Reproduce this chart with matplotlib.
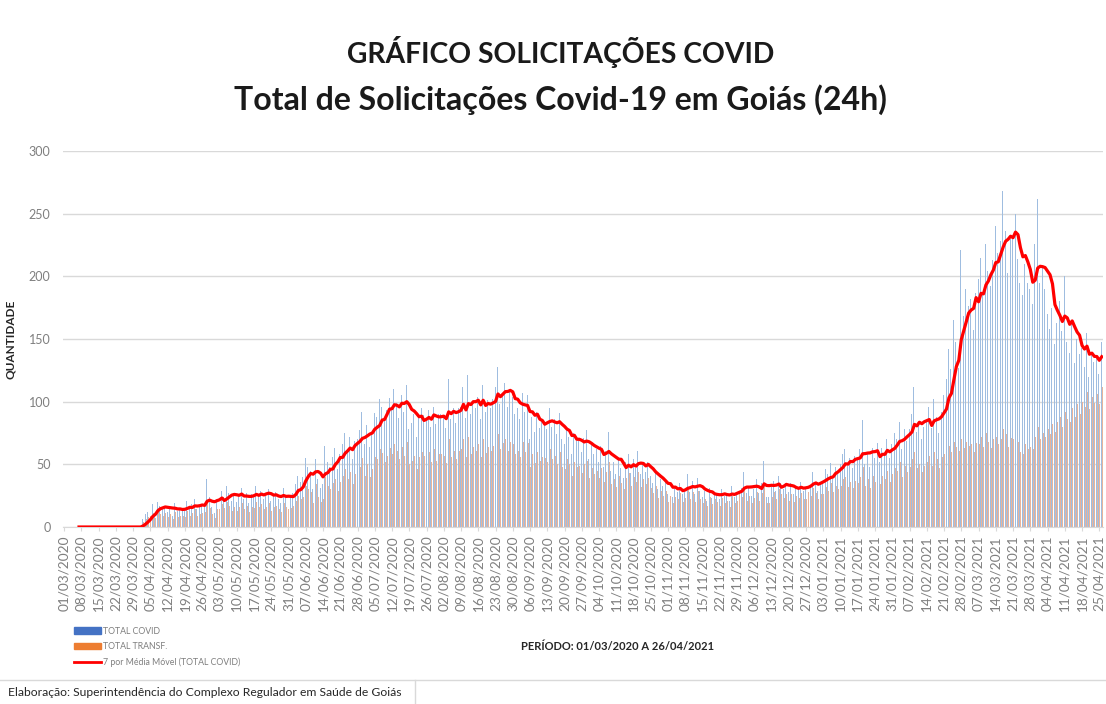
import numpy as np
import pandas as pd
import matplotlib
matplotlib.use('Agg')
import matplotlib.pyplot as plt
from matplotlib.patches import Patch
from matplotlib.lines import Line2D

plt.rcParams['font.family'] = ['Lato', 'DejaVu Sans']

# daily values, one line per week (Sun..Sat) from 01/03/2020
inicio = '2020-03-01'
total_covid = [
    0, 0, 0, 0, 0, 0, 0,
    0, 0, 0, 0, 0, 0, 0,
    0, 0, 0, 0, 0, 0, 0,
    0, 0, 0, 0, 0, 0, 0,
    0, 0, 0, 0, 6, 10, 12,
    14, 18, 11, 20, 17, 15, 17,
    12, 16, 9, 19, 13, 15, 14,
    13, 21, 15, 18, 22, 14, 16,
    17, 19, 38, 24, 16, 11, 22,
    22, 29, 24, 33, 27, 21, 26,
    20, 26, 31, 22, 27, 19, 26,
    24, 33, 26, 29, 22, 25, 30,
    21, 25, 28, 22, 19, 31, 25,
    22, 24, 27, 34, 41, 36, 40,
    55, 48, 45, 30, 54, 38, 31,
    34, 65, 52, 48, 56, 63, 46,
    58, 66, 75, 61, 72, 54, 69,
    70, 77, 92, 66, 81, 64, 75,
    91, 88, 102, 96, 85, 93, 103,
    94, 110, 99, 87, 105, 92, 113,
    78, 83, 90, 72, 88, 95, 89,
    85, 93, 80, 96, 82, 90, 90,
    88, 79, 118, 86, 95, 83, 95,
    96, 112, 87, 121, 90, 99, 95,
    104, 86, 113, 92, 101, 95, 102,
    112, 128, 98, 106, 115, 96, 108,
    104, 90, 95, 86, 107, 92, 105,
    70, 88, 76, 92, 79, 85, 84,
    78, 95, 80, 86, 74, 91, 70,
    66, 80, 72, 58, 75, 69, 70,
    60, 71, 77, 54, 66, 58, 62,
    52, 65, 48, 61, 76, 45, 52,
    42, 55, 47, 39, 52, 58, 43,
    54, 47, 61, 42, 50, 44, 52,
    41, 35, 44, 30, 38, 33, 38,
    26, 33, 24, 31, 28, 35, 26,
    30, 42, 28, 37, 26, 39, 29,
    24, 29, 21, 31, 23, 28, 26,
    22, 30, 25, 27, 21, 33, 24,
    28, 36, 31, 44, 27, 33, 25,
    30, 38, 27, 35, 53, 24, 24,
    32, 37, 29, 41, 35, 30, 34,
    28, 35, 26, 33, 30, 36, 29,
    30, 38, 33, 44, 36, 29, 35,
    37, 46, 42, 51, 40, 48, 44,
    50, 58, 62, 49, 55, 47, 57,
    54, 62, 85, 50, 58, 48, 63,
    55, 67, 52, 63, 58, 70, 55,
    66, 75, 70, 84, 62, 78, 69,
    78, 90, 112, 76, 82, 70, 80,
    84, 96, 79, 102, 88, 75, 92,
    105, 118, 142, 126, 165, 148, 127,
    221, 168, 190, 176, 182, 157, 187,
    198, 215, 187, 226, 204, 192, 213,
    240, 219, 228, 268, 236, 203, 230,
    232, 250, 214, 195, 185, 210, 195,
    190, 178, 226, 262, 195, 208, 190,
    170, 158, 175, 146, 163, 180, 156,
    200, 148, 139, 165, 131, 150, 138,
    143, 128, 155, 120, 137, 132, 137,
    122, 148,
]
total_transf = [
    0, 0, 0, 0, 0, 0, 0,
    0, 0, 0, 0, 0, 0, 0,
    0, 0, 0, 0, 0, 0, 0,
    0, 0, 0, 0, 0, 0, 0,
    0, 0, 0, 0, 4, 6, 8,
    9, 11, 7, 13, 10, 9, 11,
    8, 10, 6, 12, 8, 9, 9,
    8, 13, 9, 11, 14, 9, 10,
    11, 12, 20, 15, 10, 7, 14,
    14, 18, 15, 20, 17, 13, 16,
    13, 16, 19, 14, 17, 12, 16,
    15, 20, 16, 18, 14, 16, 19,
    13, 16, 17, 14, 12, 19, 16,
    14, 15, 17, 21, 25, 22, 24,
    33, 30, 28, 19, 34, 24, 20,
    22, 40, 33, 30, 35, 38, 29,
    36, 41, 46, 38, 44, 34, 42,
    43, 48, 55, 41, 50, 40, 46,
    56, 54, 62, 59, 52, 57, 63,
    58, 66, 61, 54, 64, 57, 68,
    50, 53, 57, 46, 56, 60, 57,
    55, 60, 52, 62, 53, 58, 58,
    57, 51, 70, 56, 61, 54, 61,
    62, 70, 56, 72, 58, 64, 61,
    66, 56, 70, 59, 64, 61, 65,
    68, 74, 62, 67, 70, 61, 68,
    66, 58, 61, 56, 68, 60, 67,
    48, 58, 51, 60, 53, 56, 55,
    52, 62, 54, 57, 50, 60, 48,
    46, 54, 50, 41, 52, 48, 49,
    43, 50, 53, 39, 47, 42, 45,
    39, 47, 36, 44, 52, 34, 38,
    32, 41, 35, 30, 39, 43, 33,
    40, 36, 44, 32, 38, 34, 39,
    31, 27, 33, 23, 29, 25, 29,
    20, 25, 19, 24, 22, 27, 20,
    23, 31, 22, 28, 20, 29, 22,
    19, 22, 17, 24, 18, 22, 20,
    17, 23, 19, 21, 16, 25, 19,
    21, 27, 24, 30, 21, 25, 19,
    23, 28, 21, 27, 33, 19, 19,
    24, 28, 22, 30, 26, 23, 26,
    21, 26, 20, 25, 23, 27, 22,
    22, 28, 25, 31, 27, 22, 26,
    26, 32, 29, 35, 28, 33, 30,
    33, 38, 40, 32, 36, 31, 37,
    35, 40, 48, 33, 38, 31, 41,
    36, 43, 34, 41, 38, 45, 36,
    42, 47, 45, 52, 40, 49, 44,
    48, 54, 60, 47, 50, 44, 49,
    52, 57, 49, 60, 54, 47, 56,
    58, 62, 65, 60, 68, 64, 61,
    70, 63, 68, 65, 66, 60, 67,
    66, 72, 64, 75, 68, 63, 70,
    72, 66, 70, 78, 74, 64, 71,
    70, 76, 68, 60, 58, 66, 62,
    64, 62, 72, 80, 70, 75, 72,
    78, 74, 82, 76, 84, 88, 80,
    92, 86, 84, 95, 88, 98, 90,
    100, 96, 108, 94, 104, 99, 106,
    98, 112,
]

datas = pd.date_range(inicio, periods=len(total_covid), freq='D')
df = pd.DataFrame({'covid': total_covid, 'transf': total_transf}, index=datas)
df['media'] = df['covid'].rolling(7).mean()
x = np.arange(len(df))

fig = plt.figure(figsize=(11.06, 7.04), dpi=100)
ax = fig.add_axes([63 / 1106, 1 - 527 / 704, 1040 / 1106, 376 / 704])

w = 0.4
ax.bar(x - w / 2, df['covid'], width=w, color='#9fbde0', linewidth=0, zorder=2)
ax.bar(x + w / 2, df['transf'], width=w, color='#e9b49a', linewidth=0, zorder=2)
ax.plot(x, df['media'], color='#ff0000', linewidth=2.3, zorder=3)

ax.set_xlim(-0.5, len(df) - 0.5)
ax.set_ylim(0, 300)
ax.set_yticks(range(0, 301, 50))
ax.grid(axis='y', color='#d9d9d9', linewidth=1, zorder=0)
for s in ['top', 'right', 'left']:
    ax.spines[s].set_visible(False)
ax.spines['bottom'].set_color('#d9d9d9')

ticks = x[::7]
ax.set_xticks(ticks)
ax.set_xticklabels(datas[::7].strftime('%d/%m/%Y'), rotation=90, fontsize=9.8, color='#7f7f7f')
ax.tick_params(axis='x', length=3, color='#d9d9d9', pad=3)
ax.tick_params(axis='y', length=0, labelsize=9, labelcolor='#7f7f7f', pad=9)
ax.set_ylabel('QUANTIDADE', fontsize=8.5, fontweight='bold', color='#262626', labelpad=9)

fig.text(0.507, 0.926, 'GRÁFICO SOLICITAÇÕES COVID', ha='center', va='center',
         fontsize=20.3, fontweight='bold', color='#1a1a1a')
fig.text(0.507, 0.858, 'Total de Solicitações Covid-19 em Goiás (24h)', ha='center', va='center',
         fontsize=23, fontweight='bold', color='#1a1a1a')

handles = [Patch(color='#4472c4'), Patch(color='#ed7d31'),
           Line2D([0], [0], color='#ff0000', linewidth=2)]
labels = ['TOTAL COVID', 'TOTAL TRANSF.', '7 por Média Móvel (TOTAL COVID)']
fig.legend(handles, labels, loc='upper left', bbox_to_anchor=(0.064, 1 - 623 / 704),
           frameon=False, fontsize=6.3, labelcolor='#7f7f7f', handlelength=3.1,
           handleheight=0.8, handletextpad=0.2, labelspacing=0.75, borderaxespad=0)

fig.text(0.558, 1 - 646 / 704, 'PERÍODO: 01/03/2020 A 26/04/2021', ha='center', va='center',
         fontsize=8, fontweight='bold', color='#262626')

fig.add_artist(Line2D([0, 1], [1 - 680 / 704] * 2, color='#d9d9d9', linewidth=1,
                      transform=fig.transFigure))
fig.add_artist(Line2D([415 / 1106] * 2, [0, 1 - 680 / 704], color='#d9d9d9', linewidth=1,
                      transform=fig.transFigure))
fig.text(8 / 1106, 1 - 692 / 704, 'Elaboração: Superintendência do Complexo Regulador em Saúde de Goiás',
         ha='left', va='center', fontsize=8.7, color='#262626')

fig.savefig('out.png', dpi=100)
